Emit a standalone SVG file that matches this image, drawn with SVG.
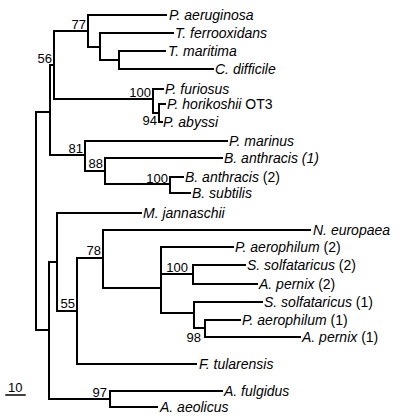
<svg xmlns="http://www.w3.org/2000/svg" width="400" height="419" viewBox="0 0 400 419">
<style>
.e{fill:none;stroke:#000;stroke-width:2;stroke-linecap:square}
.t{font-family:"Liberation Sans",Arial,sans-serif;font-size:14px;font-style:italic;fill:#000}
.t tspan.n{font-style:normal}
.b{font-family:"Liberation Sans",Arial,sans-serif;font-size:13px;fill:#000}
</style>
<rect width="400" height="419" fill="#fff"/>
<g id="connectors" class="e">
<!-- internal verticals -->
<path d="M36 112V330"/>
<path d="M50 65V155"/>
<path d="M54 31V99"/>
<path d="M88 15V47"/>
<path d="M100 33V60"/>
<path d="M119 51V69"/>
<path d="M153 89V113"/>
<path d="M159 104V122"/>
<path d="M85 141V171"/>
<path d="M105 158V184"/>
<path d="M170 177V193"/>
<path d="M49 262V399"/>
<path d="M57 213V311"/>
<path d="M77 258V364"/>
<path d="M103 230V288"/>
<path d="M161 247V313"/>
<path d="M193 265V284"/>
<path d="M194 302V328"/>
<path d="M205 320V337"/>
<path d="M110 391V407"/>
<!-- internal horizontals -->
<path d="M36 112H50"/>
<path d="M50 65H54"/>
<path d="M54 31H88"/>
<path d="M88 47H100"/>
<path d="M100 60H119"/>
<path d="M54 99H153"/>
<path d="M153 113H159"/>
<path d="M50 155H85"/>
<path d="M85 171H105"/>
<path d="M105 184H170"/>
<path d="M36 330H49"/>
<path d="M49 262H57"/>
<path d="M57 311H77"/>
<path d="M77 258H103"/>
<path d="M103 288H161"/>
<path d="M161 274H193"/>
<path d="M161 313H194"/>
<path d="M194 328H205"/>
<path d="M49 399H110"/>
<!-- leaf branches -->
<path d="M88 15H166"/>
<path d="M100 33H173"/>
<path d="M119 51H165"/>
<path d="M119 69H213"/>
<path d="M153 89H163"/>
<path d="M159 104H165"/>
<path d="M159 122H162"/>
<path d="M85 141H227"/>
<path d="M105 158H222"/>
<path d="M170 177H183"/>
<path d="M170 193H190"/>
<path d="M57 213H141"/>
<path d="M103 230H310"/>
<path d="M161 247H233"/>
<path d="M193 265H245"/>
<path d="M193 284H257"/>
<path d="M194 302H262"/>
<path d="M205 320H240"/>
<path d="M205 337H300"/>
<path d="M77 364H196"/>
<path d="M110 391H222"/>
<path d="M110 407H157"/>
</g>
<g id="leaf-p-aeruginosa"><text class="t" x="169" y="20">P. aeruginosa</text></g>
<g id="leaf-t-ferrooxidans"><text class="t" x="175" y="38">T. ferrooxidans</text></g>
<g id="leaf-t-maritima"><text class="t" x="168" y="56">T. maritima</text></g>
<g id="leaf-c-difficile"><text class="t" x="215" y="74">C. difficile</text></g>
<g id="leaf-p-furiosus"><text class="t" x="165" y="94">P. furiosus</text></g>
<g id="leaf-p-horikoshii"><text class="t" x="167" y="109">P. horikoshii <tspan class="n">OT3</tspan></text></g>
<g id="leaf-p-abyssi"><text class="t" x="163" y="127">P. abyssi</text></g>
<g id="leaf-p-marinus"><text class="t" x="229" y="146">P. marinus</text></g>
<g id="leaf-b-anthracis-1"><text class="t" x="224" y="163">B. anthracis (1)</text></g>
<g id="leaf-b-anthracis-2"><text class="t" x="185" y="182">B. anthracis <tspan class="n">(2)</tspan></text></g>
<g id="leaf-b-subtilis"><text class="t" x="192" y="198">B. subtilis</text></g>
<g id="leaf-m-jannaschii"><text class="t" x="143" y="218">M. jannaschii</text></g>
<g id="leaf-n-europaea"><text class="t" x="313" y="235">N. europaea</text></g>
<g id="leaf-p-aerophilum-2"><text class="t" x="235" y="252">P. aerophilum <tspan class="n">(2)</tspan></text></g>
<g id="leaf-s-solfataricus-2"><text class="t" x="247" y="270">S. solfataricus <tspan class="n">(2)</tspan></text></g>
<g id="leaf-a-pernix-2"><text class="t" x="259" y="289">A. pernix <tspan class="n">(2)</tspan></text></g>
<g id="leaf-s-solfataricus-1"><text class="t" x="264" y="307">S. solfataricus <tspan class="n">(1)</tspan></text></g>
<g id="leaf-p-aerophilum-1"><text class="t" x="242" y="325">P. aerophilum <tspan class="n">(1)</tspan></text></g>
<g id="leaf-a-pernix-1"><text class="t" x="302" y="342">A. pernix <tspan class="n">(1)</tspan></text></g>
<g id="leaf-f-tularensis"><text class="t" x="199" y="369">F. tularensis</text></g>
<g id="leaf-a-fulgidus"><text class="t" x="224" y="396">A. fulgidus</text></g>
<g id="leaf-a-aeolicus"><text class="t" x="160" y="412">A. aeolicus</text></g>
<g id="node-77"><text class="b" x="86" y="29" text-anchor="end">77</text></g>
<g id="node-56"><text class="b" x="52" y="63" text-anchor="end">56</text></g>
<g id="node-100a"><text class="b" x="151" y="97" text-anchor="end">100</text></g>
<g id="node-94"><text class="b" x="157" y="125" text-anchor="end">94</text></g>
<g id="node-81"><text class="b" x="83" y="153" text-anchor="end">81</text></g>
<g id="node-88"><text class="b" x="103" y="168" text-anchor="end">88</text></g>
<g id="node-100b"><text class="b" x="168" y="183" text-anchor="end">100</text></g>
<g id="node-78"><text class="b" x="101" y="255" text-anchor="end">78</text></g>
<g id="node-55"><text class="b" x="75" y="308" text-anchor="end">55</text></g>
<g id="node-100c"><text class="b" x="188" y="272" text-anchor="end">100</text></g>
<g id="node-98"><text class="b" x="201" y="342" text-anchor="end">98</text></g>
<g id="node-97"><text class="b" x="107" y="397" text-anchor="end">97</text></g>
<g id="scale-bar"><text class="b" x="8" y="392">10</text><path class="e" d="M6 395H25" style="stroke-width:1.5"/></g>
</svg>
